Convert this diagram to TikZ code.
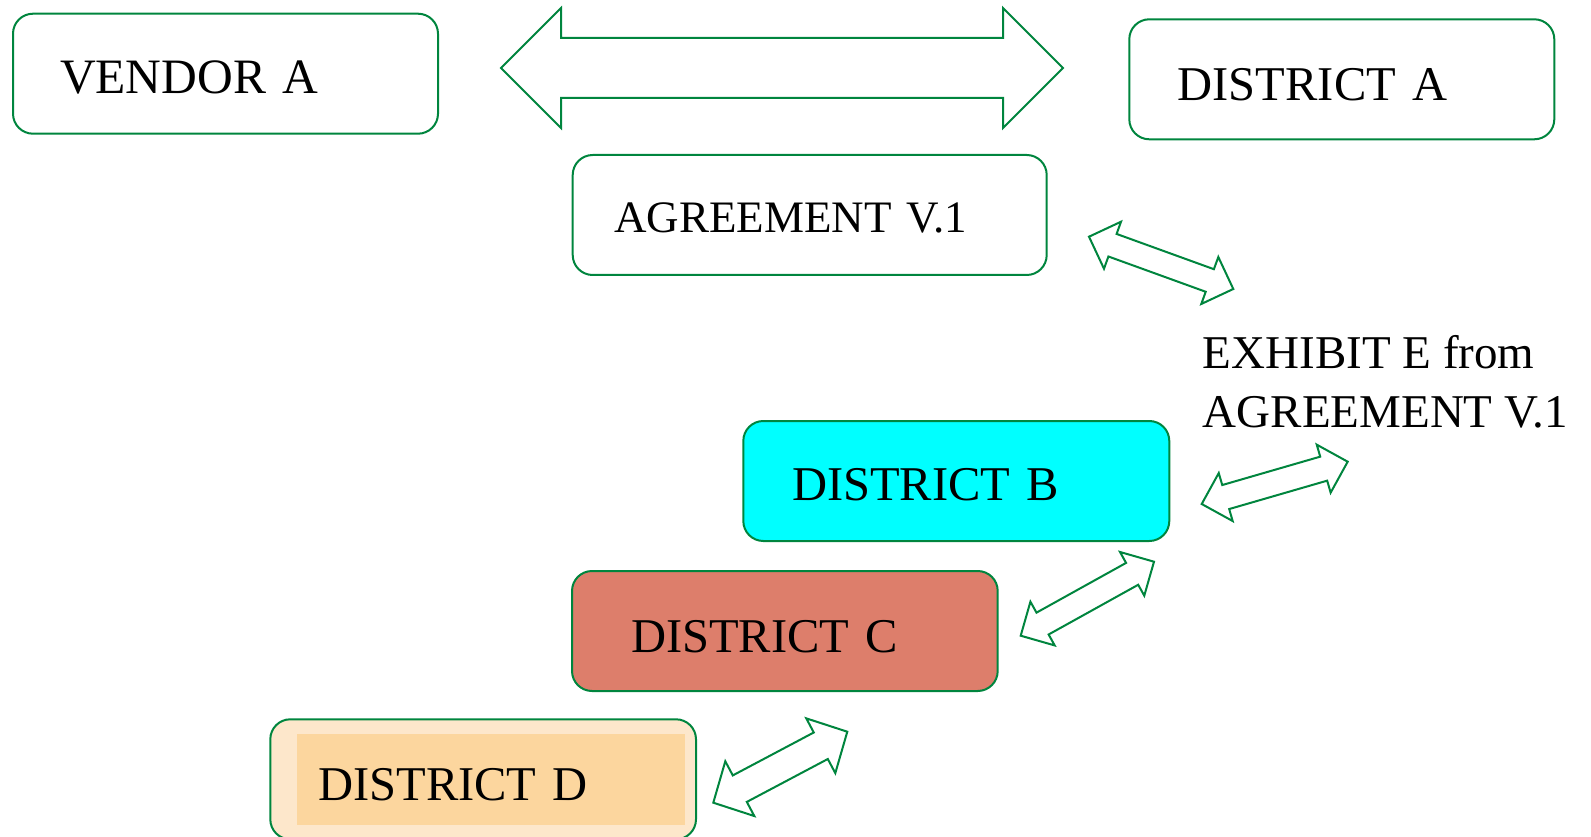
\documentclass[tikz,border=0pt]{standalone}
\usepackage{fontspec}
\setmainfont{Liberation Serif}
\usetikzlibrary{calc}
\definecolor{exGreen}{RGB}{0,133,62}
\definecolor{exCyan}{RGB}{0,255,255}
\definecolor{exRed}{RGB}{221,126,107}
\definecolor{exPeach}{RGB}{253,231,203}
\definecolor{exPeachDark}{RGB}{252,214,158}

\tikzset{
  distbox/.style={draw=exGreen, line width=2pt, rounded corners=20pt, anchor=north west,
    minimum height=120pt, inner sep=0pt, align=left, text height=40pt, text depth=0pt,
    font=\fontsize{48.5}{58}\selectfont},
  blockarrow/.style={draw=exGreen, line width=2pt, fill=white, line join=miter},
}

% hollow double arrow between two tips: shaft half-width, head half-width, head length
\newcommand{\dblarrow}[5]{%
  \coordinate (hbA) at ($(#1)!#5!(#2)$);
  \coordinate (hbB) at ($(#2)!#5!(#1)$);
  \draw[blockarrow] (#1) -- ($(hbA)!#4!90:(#2)$) -- ($(hbA)!#3!90:(#2)$)
    -- ($(hbB)!#3!-90:(#1)$) -- ($(hbB)!#4!-90:(#1)$) -- (#2)
    -- ($(hbB)!#4!90:(#1)$) -- ($(hbB)!#3!90:(#1)$)
    -- ($(hbA)!#3!-90:(#2)$) -- ($(hbA)!#4!-90:(#2)$) -- cycle;}

\begin{document}
\begin{tikzpicture}[x=1pt, y=-1pt]
  \useasboundingbox (0,0) rectangle (1591,837);
  \clip (0,0) rectangle (1591,837);

  % Top row: vendor, district A, agreement
  \node[distbox, minimum width=425pt, text width=331pt, font=\fontsize{49.5}{59}\selectfont]
    (vendorA) at (12,12.7) {VENDOR A};
  \node[distbox, minimum width=425pt, text width=328pt, text height=42pt] (districtA) at (1128.3,18.3) {DISTRICT A};
  \node[distbox, minimum width=474pt, text width=391pt, text height=35.4pt,
        font=\fontsize{45}{54}\selectfont] (agreement) at (571.7,154) {AGREEMENT V.1};

  \coordinate (vendorTip) at (501,68);
  \coordinate (districtTip) at (1063,68);
  \dblarrow{vendorTip}{districtTip}{30pt}{60pt}{60pt}

  % Exhibit text (base = last line)
  \node[anchor=base west, align=left, inner sep=0pt, font=\fontsize{47}{59}\selectfont]
    (exhibit) at (1202.7,427.3) {EXHIBIT E from\\AGREEMENT V.1};

  \coordinate (agrTip) at (1089,236.7);
  \coordinate (exhTip) at (1233.3,289);
  \dblarrow{agrTip}{exhTip}{12pt}{25pt}{25pt}

  % Districts B, C, D
  \node[distbox, fill=exCyan, minimum width=426pt, text width=328.6pt, text height=38.6pt]
    (districtB) at (742.3,420) {DISTRICT B};
  \node[distbox, fill=exRed, minimum width=425.7pt, text width=307.7pt, text height=43.4pt]
    (districtC) at (571,570) {DISTRICT C};
  \node[distbox, fill=exPeach, minimum width=425.7pt, text width=329.7pt, text height=42pt,
        path picture={\fill[exPeachDark, sharp corners] ([xshift=26.4pt,yshift=-14.4pt]path picture bounding box.north west)
          rectangle ([xshift=-11pt,yshift=14.4pt]path picture bounding box.south east);}]
    (districtD) at (269.3,718.3) {DISTRICT D};

  \coordinate (dBTip) at (1201.7,504);
  \coordinate (exhTipB) at (1347.7,461.7);
  \dblarrow{dBTip}{exhTipB}{12.5pt}{25pt}{25pt}

  \coordinate (dCTip) at (1020.7,635.7);
  \coordinate (dBTipB) at (1154,561.7);
  \dblarrow{dCTip}{dBTipB}{12.5pt}{25pt}{25pt}

  \coordinate (dDTip) at (713.3,802.7);
  \coordinate (dCTipB) at (847.3,731.7);
  \dblarrow{dDTip}{dCTipB}{15pt}{31pt}{30pt}
\end{tikzpicture}
\end{document}
